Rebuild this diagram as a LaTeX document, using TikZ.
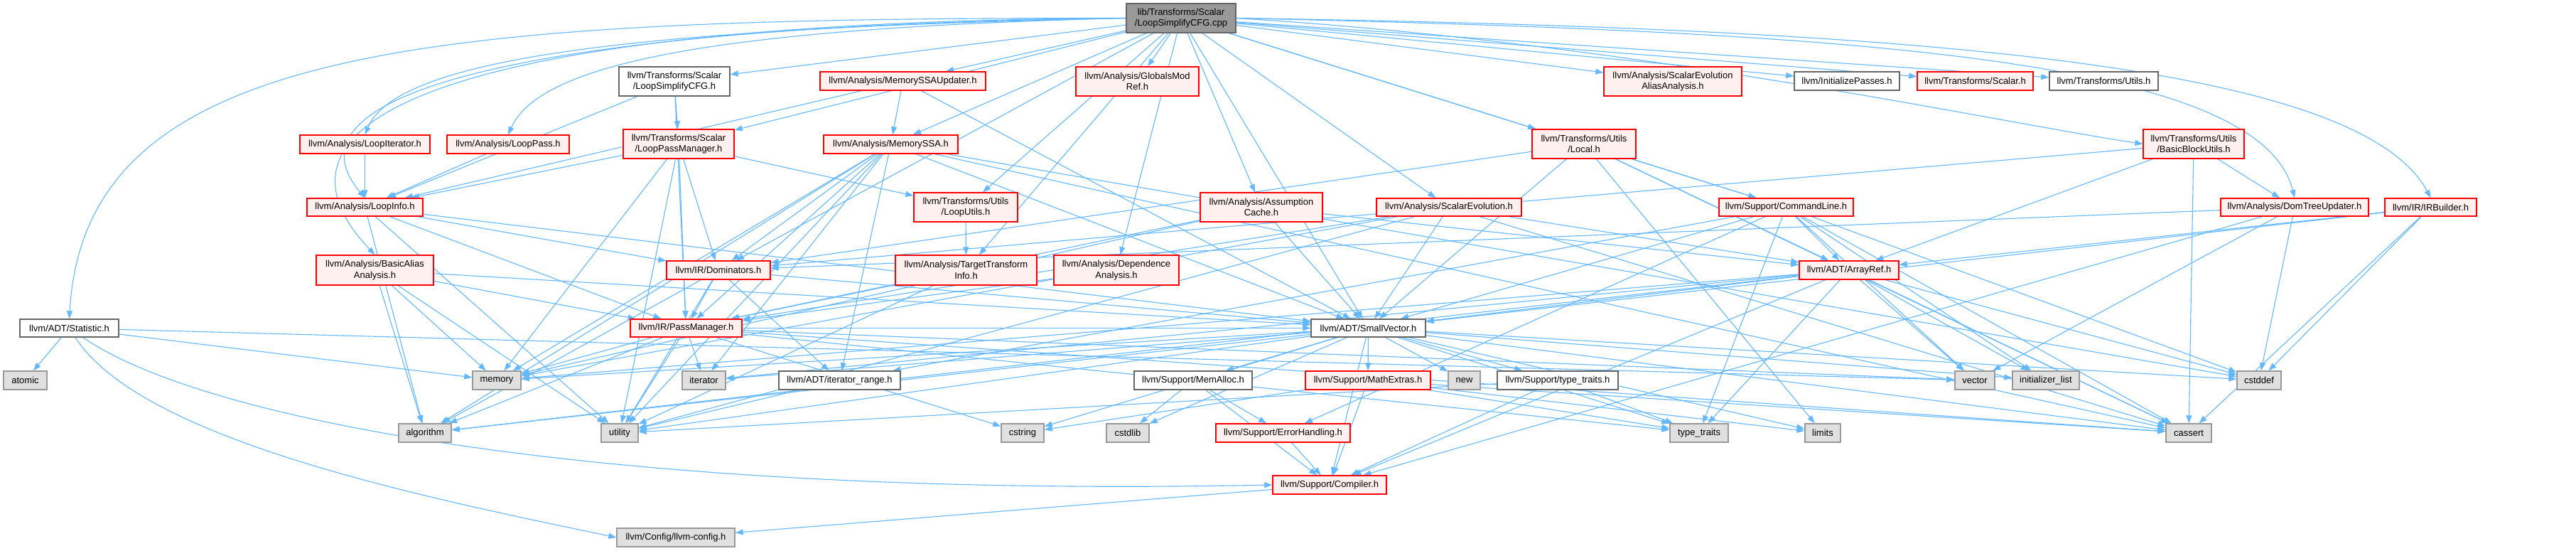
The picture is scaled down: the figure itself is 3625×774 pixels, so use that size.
\documentclass[tikz,border=0pt]{standalone}
\usepackage{fontspec}
\setmainfont{Liberation Sans}
\usetikzlibrary{arrows.meta}
\pgfdeclarelayer{bgzero}
\pgfdeclarelayer{edgelayer}
\pgfsetlayers{bgzero,edgelayer,main}
\definecolor{edgec}{RGB}{99,184,255}
\definecolor{redb}{RGB}{255,0,0}
\definecolor{redf}{RGB}{255,240,240}
\definecolor{grayf}{RGB}{224,224,224}
\definecolor{grayb}{RGB}{153,153,153}
\definecolor{darkb}{RGB}{102,102,102}
\begin{document}
\begin{tikzpicture}[x=1pt,y=-1pt,
  every node/.style={inner sep=0pt, align=center, font=\fontsize{13}{15.5}\selectfont},
  redbox/.style={draw=redb, fill=redf, line width=1.4pt},
  whitebox/.style={draw=darkb, fill=white, line width=1.4pt},
  graybox/.style={draw=grayb, fill=grayf, line width=1.4pt},
  rootbox/.style={draw=darkb, fill=grayb, line width=1.4pt},
  arr/.style={draw=edgec, line width=1.1pt, -{Stealth[length=11pt,width=8pt,inset=0pt]}}]
\useasboundingbox (0,0) rectangle (3625,774);
\begin{pgfonlayer}{bgzero}
\fill[white] (0,0) rectangle (3625,774);
\end{pgfonlayer}

% ---------- nodes ----------
\node[rootbox, minimum width=154, minimum height=41] (root) at (1662,25.5) {lib/Transforms/Scalar\\/LoopSimplifyCFG.cpp};
\node[whitebox, minimum width=156, minimum height=41] (lscfgh) at (949,114.5) {llvm/Transforms/Scalar\\/LoopSimplifyCFG.h};
\node[redbox, minimum width=233, minimum height=26] (msssaupd) at (1270.5,114) {llvm/Analysis/MemorySSAUpdater.h};
\node[redbox, minimum width=173, minimum height=41] (gmr) at (1600.5,114.5) {llvm/Analysis/GlobalsMod\\Ref.h};
\node[redbox, minimum width=194, minimum height=41] (sevaa) at (2354,114.5) {llvm/Analysis/ScalarEvolution\\AliasAnalysis.h};
\node[whitebox, minimum width=148, minimum height=26] (initp) at (2599,114) {llvm/InitializePasses.h};
\node[redbox, minimum width=163, minimum height=26] (tscalar) at (2779.5,114) {llvm/Transforms/Scalar.h};
\node[whitebox, minimum width=153, minimum height=26] (tutils) at (2960.5,114) {llvm/Transforms/Utils.h};

\node[redbox, minimum width=183, minimum height=26] (liter) at (513.5,203) {llvm/Analysis/LoopIterator.h};
\node[redbox, minimum width=172, minimum height=26] (lpass) at (715,203) {llvm/Analysis/LoopPass.h};
\node[redbox, minimum width=156, minimum height=41] (lpm) at (955,202.5) {llvm/Transforms/Scalar\\/LoopPassManager.h};
\node[redbox, minimum width=189, minimum height=26] (mssa) at (1253.5,203) {llvm/Analysis/MemorySSA.h};
\node[redbox, minimum width=146, minimum height=41] (local) at (2229,202.5) {llvm/Transforms/Utils\\/Local.h};
\node[redbox, minimum width=142, minimum height=41] (bbu) at (3087,202.5) {llvm/Transforms/Utils\\/BasicBlockUtils.h};

\node[redbox, minimum width=163, minimum height=25] (linfo) at (513.5,291.5) {llvm/Analysis/LoopInfo.h};
\node[redbox, minimum width=146, minimum height=41] (lutils) at (1359,291.5) {llvm/Transforms/Utils\\/LoopUtils.h};
\node[redbox, minimum width=172, minimum height=41] (ac) at (1775,291.5) {llvm/Analysis/Assumption\\Cache.h};
\node[redbox, minimum width=204, minimum height=25] (se) at (2039,291.5) {llvm/Analysis/ScalarEvolution.h};
\node[redbox, minimum width=189, minimum height=25] (cl) at (2513.5,291.5) {llvm/Support/CommandLine.h};
\node[redbox, minimum width=208, minimum height=25] (dtu) at (3229,291.5) {llvm/Analysis/DomTreeUpdater.h};
\node[redbox, minimum width=129, minimum height=25] (irb) at (3420.5,291.5) {llvm/IR/IRBuilder.h};

\node[redbox, minimum width=165, minimum height=42] (baa) at (527.5,380) {llvm/Analysis/BasicAlias\\Analysis.h};
\node[redbox, minimum width=146, minimum height=26] (dom) at (1011,380) {llvm/IR/Dominators.h};
\node[redbox, minimum width=199, minimum height=42] (tti) at (1359.5,380) {llvm/Analysis/TargetTransform\\Info.h};
\node[redbox, minimum width=176, minimum height=42] (da) at (1571,380) {llvm/Analysis/Dependence\\Analysis.h};
\node[redbox, minimum width=140, minimum height=26] (aref) at (2602,380) {llvm/ADT/ArrayRef.h};

\node[whitebox, minimum width=139, minimum height=25] (stat) at (97.5,461.5) {llvm/ADT/Statistic.h};
\node[redbox, minimum width=157, minimum height=25] (pm) at (965.5,461.5) {llvm/IR/PassManager.h};
\node[whitebox, minimum width=161, minimum height=25] (sv) at (1925.5,461.5) {llvm/ADT/SmallVector.h};

\node[graybox, minimum width=61, minimum height=26] (atomic) at (35.5,535) {atomic};
\node[graybox, minimum width=68, minimum height=26] (memory) at (699,535) {memory};
\node[graybox, minimum width=61, minimum height=26] (iterator) at (990.5,535) {iterator};
\node[whitebox, minimum width=171, minimum height=26] (itrange) at (1181.5,535) {llvm/ADT/iterator\_range.h};
\node[whitebox, minimum width=166, minimum height=26] (memalloc) at (1679,535) {llvm/Support/MemAlloc.h};
\node[redbox, minimum width=176, minimum height=26] (mathext) at (1925,535) {llvm/Support/MathExtras.h};
\node[graybox, minimum width=45, minimum height=26] (new) at (2060.5,535) {new};
\node[whitebox, minimum width=170, minimum height=26] (suptt) at (2192,535) {llvm/Support/type\_traits.h};
\node[graybox, minimum width=56, minimum height=26] (vector) at (2779,535) {vector};
\node[graybox, minimum width=94, minimum height=26] (initlist) at (2879,535) {initializer\_list};
\node[graybox, minimum width=62, minimum height=26] (cstddef) at (3179,535) {cstddef};

\node[graybox, minimum width=74, minimum height=26] (algorithm) at (598,609) {algorithm};
\node[graybox, minimum width=52, minimum height=26] (utility) at (872,609) {utility};
\node[graybox, minimum width=60, minimum height=26] (cstring) at (1439,609) {cstring};
\node[graybox, minimum width=60, minimum height=26] (cstdlib) at (1587,609) {cstdlib};
\node[redbox, minimum width=189, minimum height=26] (errh) at (1805.5,609) {llvm/Support/ErrorHandling.h};
\node[graybox, minimum width=82, minimum height=26] (tt) at (2391,609) {type\_traits};
\node[graybox, minimum width=50, minimum height=26] (limits) at (2565,609) {limits};
\node[graybox, minimum width=64, minimum height=26] (cassert) at (3080,609) {cassert};

\node[redbox, minimum width=160, minimum height=26] (compiler) at (1871,682) {llvm/Support/Compiler.h};
\node[graybox, minimum width=166, minimum height=26] (config) at (951,756) {llvm/Config/llvm-config.h};

% ---------- edges ----------
\begin{pgfonlayer}{edgelayer}
% root
\foreach \t in {lscfgh,msssaupd,gmr,sevaa,initp,tscalar,tutils,lpm,mssa,lutils,ac,se,tti,da,dom,cl,local,sv}
  \draw[arr] (root) -- (\t);
\draw[arr] (root.west) .. controls (900,40) and (560,80) .. (liter.north);
\draw[arr] (root.west) .. controls (1000,40) and (760,90) .. (lpass.north);
\draw[arr] (root.west) .. controls (800,35) and (380,120) .. (linfo.north);
\draw[arr] (root.west) .. controls (700,30) and (330,150) .. (baa.north);
\draw[arr] (root.west) .. controls (600,25) and (120,60) .. (stat.north);
\draw[arr] (root.east) .. controls (2300,60) and (2800,170) .. (bbu.west);
\draw[arr] (root.east) .. controls (2600,45) and (3180,80) .. (dtu.north);
\draw[arr] (root.east) .. controls (2700,40) and (3320,90) .. (irb.north);

\foreach \t in {linfo,lpm,pm} \draw[arr] (lscfgh) -- (\t);
\foreach \t in {mssa,sv,linfo} \draw[arr] (msssaupd) -- (\t);
\draw[arr] (liter) -- (linfo);
\draw[arr] (lpass) -- (linfo);
\foreach \t in {linfo,lutils,dom,pm,memory,utility} \draw[arr] (lpm) -- (\t);
\foreach \t in {dom,pm,sv,itrange,iterator,memory,utility,algorithm,cassert,cstddef} \draw[arr] (mssa) -- (\t);
\foreach \t in {dom,aref,cl,sv,limits,cassert} \draw[arr] (local) -- (\t);
\foreach \t in {dom,dtu,aref,cassert} \draw[arr] (bbu) -- (\t);
\foreach \t in {pm,dom,sv,algorithm,utility} \draw[arr] (linfo) -- (\t);
\draw[arr] (lutils) -- (tti);
\foreach \t in {pm,sv,aref,memory} \draw[arr] (ac) -- (\t);
\foreach \t in {aref,sv,pm,memory,utility,cassert} \draw[arr] (se) -- (\t);
\foreach \t in {aref,sv,itrange,errh,cassert,cstddef,initlist,tt,vector} \draw[arr] (cl) -- (\t);
\foreach \t in {dom,compiler,vector,cstddef} \draw[arr] (dtu) -- (\t);
\foreach \t in {aref,sv,cassert,cstddef} \draw[arr] (irb) -- (\t);
\foreach \t in {pm,algorithm,memory,utility,sv} \draw[arr] (baa) -- (\t);
\foreach \t in {pm,sv,itrange,algorithm,utility} \draw[arr] (dom) -- (\t);
\foreach \t in {pm,utility} \draw[arr] (tti) -- (\t);
\draw[arr] (da) -- (pm);
\foreach \t in {sv,compiler,algorithm,cassert,cstddef,initlist,iterator,memory,tt,vector} \draw[arr] (aref) -- (\t);
\foreach \t in {atomic,memory,vector} \draw[arr] (stat) -- (\t);
\draw[arr] (stat) .. controls (200,620) and (600,700) .. (config.west);
\draw[arr] (stat) .. controls (300,600) and (900,700) .. (compiler.west);
\foreach \t in {cassert,cstring,iterator,memory,tt,utility,vector,algorithm,sv} \draw[arr] (pm) -- (\t);
\foreach \t in {compiler,memalloc,suptt,mathext,algorithm,cassert,cstddef,cstdlib,cstring,initlist,iterator,limits,memory,new,tt,utility} \draw[arr] (sv) -- (\t);
\draw[arr] (itrange) -- (utility);
\foreach \t in {compiler,errh,cstdlib} \draw[arr] (memalloc) -- (\t);
\foreach \t in {compiler,cassert,cstring,limits,tt} \draw[arr] (mathext) -- (\t);
\foreach \t in {compiler,tt,utility} \draw[arr] (suptt) -- (\t);
\draw[arr] (errh) -- (compiler);
\draw[arr] (compiler) -- (config);
\end{pgfonlayer}
\end{tikzpicture}
\end{document}
